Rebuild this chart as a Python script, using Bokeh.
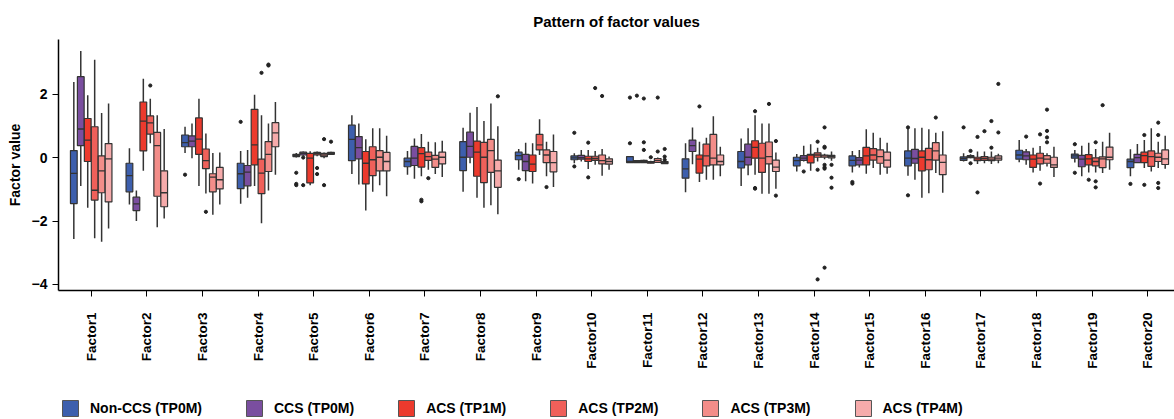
import numpy as np
from bokeh.plotting import figure
from bokeh.layouts import column
from bokeh.models import Range1d, FixedTicker, Legend, LegendItem
from bokeh.embed import file_html
from bokeh.resources import INLINE

FACTORS = [f"Factor{i}" for i in range(1, 21)]
GROUPS = ["Non-CCS (TP0M)", "CCS (TP0M)", "ACS (TP1M)", "ACS (TP2M)", "ACS (TP3M)", "ACS (TP4M)"]
COLORS = ["#3D5FAD", "#7A4E9F", "#EC3A2D", "#EF605A", "#F38D89", "#F6ABAB"]
Y_TICKS = [-4, -2, 0, 2]

# ---- Non-CCS (TP0M)
NONCCS_LO  = [-2.57, -1.48, 0.14, -1.46, 0.00, -0.52, -0.54, -1.08, -0.385, -0.18, -0.17, -1.09, -0.90, -0.44, -0.47, -0.57, -0.125, -0.15, -0.16, -0.59]
NONCCS_Q1  = [-1.45, -1.08, 0.34, -0.98, 0.03, -0.10, -0.29, -0.41, -0.07, -0.07, -0.16, -0.65, -0.33, -0.26, -0.26, -0.26, -0.09, -0.05, -0.02, -0.32]
NONCCS_MED = [-0.50, -0.57, 0.47, -0.51, 0.06, 0.57, -0.125, 0.01, 0.06, -0.01, -0.125, -0.36, -0.125, -0.10, -0.09, -0.02, -0.03, 0.08, 0.05, -0.125]
NONCCS_Q3  = [0.22, -0.18, 0.71, -0.18, 0.10, 1.02, -0.02, 0.50, 0.17, 0.05, 0.03, -0.04, 0.19, 0.01, 0.05, 0.21, 0.02, 0.23, 0.11, -0.05]
NONCCS_HI  = [2.38, 0.29, 0.97, 0.21, 0.14, 1.33, 0.21, 0.94, 0.27, 0.135, 0.05, 0.45, 0.60, 0.11, 0.21, 0.92, 0.135, 0.55, 0.24, 0.26]
NONCCS_OUT_F = [3, 4, 5, 5, 5, 9, 10, 10, 11, 11, 15, 15, 16, 16, 17, 19, 19, 20]
NONCCS_OUT_V = [-0.54, 1.125, -0.48, -0.83, -0.87, -0.68, 0.78, -0.28, 1.89, 0.45, -0.77, -0.82, 0.95, -1.19, 0.95, 0.42, -0.48, -0.83]

# ---- CCS (TP0M)
CCS_LO  = [-0.90, -2.00, -0.02, -1.27, 0.06, -0.85, -0.67, -0.18, -0.75, -0.125, -0.17, -0.21, -0.56, -0.125, -0.31, -0.70, -0.02, -0.23, -0.59, -0.16]
CCS_Q1  = [0.375, -1.67, 0.34, -0.89, 0.08, -0.04, -0.25, 0.01, -0.41, -0.05, -0.16, 0.19, -0.23, -0.09, -0.23, -0.18, 0.00, -0.07, -0.29, -0.16]
CCS_MED = [0.90, -1.46, 0.52, -0.46, 0.13, 0.31, -0.02, 0.35, -0.125, 0.00, -0.13, 0.375, 0.01, -0.02, -0.08, -0.03, 0.03, 0.05, -0.05, 0.00]
CCS_Q3  = [2.55, -1.25, 0.68, -0.25, 0.17, 0.66, 0.35, 0.80, 0.10, 0.07, -0.10, 0.55, 0.42, 0.06, 0.00, 0.26, 0.06, 0.18, 0.07, 0.10]
CCS_HI  = [3.36, -1.04, 1.07, 0.24, 0.19, 1.07, 0.60, 1.41, 0.47, 0.24, -0.08, 0.95, 0.92, 0.375, 0.24, 0.92, 0.10, 0.27, 0.375, 0.43]
CCS_OUT_F = [5, 5, 11, 14, 17, 17, 18]
CCS_OUT_V = [0.00, -0.87, 1.95, -0.44, 0.21, -0.18, 0.66]

# ---- ACS (TP1M)
TP1_LO  = [-1.58, -0.42, -0.90, -0.90, -0.87, -1.67, -0.59, -1.27, -0.82, -0.36, -0.17, -0.77, -0.54, -0.42, -0.51, -1.27, -0.20, -0.47, -0.47, -0.33]
TP1_Q1  = [-0.125, 0.21, 0.10, -0.23, -0.80, -0.83, -0.30, -0.59, -0.44, -0.125, -0.16, -0.49, -0.02, -0.17, -0.23, -0.42, -0.10, -0.31, -0.23, -0.16]
TP1_MED = [0.55, 1.15, 0.58, 0.40, -0.02, -0.18, 0.125, 0.17, -0.21, -0.04, -0.12, -0.05, 0.32, 0.08, 0.05, 0.01, -0.04, -0.05, -0.04, 0.06]
TP1_Q3  = [1.23, 1.75, 1.25, 1.52, 0.13, 0.19, 0.31, 0.52, 0.08, 0.04, -0.09, 0.08, 0.53, 0.10, 0.32, 0.21, 0.01, 0.08, 0.09, 0.17]
TP1_HI  = [1.96, 2.48, 1.85, 1.98, 0.20, 0.58, 0.74, 1.59, 0.45, 0.24, -0.07, 0.50, 1.33, 0.42, 0.89, 0.94, 0.19, 0.31, 0.47, 0.55]
TP1_OUT_F = [7, 7, 10, 10, 11, 11, 11, 12, 13, 13, 13, 17, 17, 19, 20, 20]
TP1_OUT_V = [-1.33, -1.38, 0.47, -0.625, 1.86, 0.48, 0.24, 1.61, 1.46, -0.96, -0.98, 0.65, -1.10, -0.70, 0.71, -0.86]

# ---- ACS (TP2M)
TP2_LO  = [-2.54, 0.45, -1.13, -2.07, 0.04, -1.08, -0.385, -1.58, 0.08, -0.23, -0.19, -0.70, -1.14, -0.125, -0.33, -1.125, -0.18, -0.42, -0.47, -0.44]
TP2_Q1  = [-1.34, 0.74, -0.35, -1.14, 0.08, -0.57, -0.09, -0.79, 0.24, -0.09, -0.18, -0.26, -0.47, 0.01, -0.08, -0.385, -0.09, -0.20, -0.26, -0.28]
TP2_MED = [-1.03, 1.09, -0.10, -0.49, 0.12, -0.07, 0.03, 0.01, 0.40, -0.03, -0.15, 0.05, -0.02, 0.08, 0.08, -0.07, -0.03, -0.02, -0.125, 0.03]
TP2_Q3  = [0.97, 1.31, 0.27, -0.05, 0.16, 0.34, 0.17, 0.48, 0.73, 0.04, -0.125, 0.42, 0.45, 0.15, 0.28, 0.29, 0.03, 0.135, -0.01, 0.21]
TP2_HI  = [3.08, 1.85, 0.76, 1.33, 0.19, 0.92, 0.50, 1.15, 1.21, 0.21, -0.10, 0.625, 1.07, 0.31, 0.78, 0.89, 0.19, 0.36, 0.27, 0.92]
TP2_OUT_F = [2, 3, 4, 5, 5, 7, 10, 11, 14, 14, 14, 17, 18, 18, 19, 19, 19]
TP2_OUT_V = [2.27, -1.71, 2.67, -0.33, -0.52, -0.65, 2.19, 0.01, 0.50, -0.385, -3.84, 0.83, 0.73, -0.82, 0.48, -0.75, -0.94]

# ---- ACS (TP3M)
TP3_LO  = [-2.65, -2.20, -1.80, -1.04, -0.02, -0.875, -0.52, -1.50, -0.59, -0.57, -0.17, -0.70, -1.14, -0.05, -0.54, -0.49, -0.20, -0.28, -0.49, -0.33]
TP3_Q1  = [-1.11, -1.22, -1.08, -0.44, 0.03, -0.42, -0.31, -0.47, -0.16, -0.20, -0.15, -0.23, -0.20, 0.01, -0.18, -0.08, -0.10, -0.18, -0.32, -0.125]
TP3_MED = [-0.42, 0.375, -0.62, 0.10, 0.08, 0.01, -0.05, 0.22, 0.08, -0.10, -0.09, -0.02, 0.03, 0.05, 0.03, 0.21, -0.05, -0.05, -0.04, 0.01]
TP3_Q3  = [0.05, 0.79, -0.51, 0.50, 0.13, 0.22, 0.07, 0.57, 0.24, 0.08, -0.03, 0.73, 0.49, 0.08, 0.24, 0.47, 0.01, 0.06, 0.02, 0.135]
TP3_HI  = [1.40, 1.33, 0.14, 1.07, 0.16, 0.92, 0.48, 1.70, 0.50, 0.27, 0.00, 1.30, 1.07, 0.12, 0.625, 0.78, 0.19, 0.135, 0.50, 0.50]
TP3_OUT_F = [4, 4, 5, 5, 9, 10, 11, 11, 13, 14, 14, 14, 14, 14, 14, 14, 16, 17, 17, 18, 18, 18, 18, 19, 20, 20, 20, 20]
TP3_OUT_V = [2.90, 2.93, 0.58, -0.87, -0.93, 1.94, 1.89, 0.19, 1.69, 0.95, 0.34, 0.31, -0.23, -0.31, -0.35, -3.47, 1.26, 1.15, 0.31, 1.51, 0.84, 0.635, 0.48, 1.65, 1.10, 0.71, -0.80, -0.96]

# ---- ACS (TP4M)
TP4_LO  = [-2.24, -1.92, -1.48, -0.54, 0.08, -1.22, -0.61, -1.79, -0.93, -0.385, -0.20, -0.59, -0.98, -0.10, -0.51, -1.11, -0.18, -0.61, -0.385, -0.35]
TP4_Q1  = [-1.40, -1.55, -0.99, 0.34, 0.10, -0.42, -0.20, -0.94, -0.45, -0.21, -0.19, -0.23, -0.44, -0.01, -0.30, -0.54, -0.08, -0.31, -0.07, -0.22]
TP4_MED = [-0.04, -1.11, -0.70, 0.78, 0.13, -0.125, 0.01, -0.42, -0.16, -0.125, -0.16, -0.125, -0.30, 0.03, -0.08, -0.15, -0.02, -0.23, 0.01, -0.04]
TP4_Q3  = [0.44, -0.42, -0.31, 1.10, 0.16, 0.16, 0.17, -0.08, 0.19, -0.04, -0.125, 0.08, -0.08, 0.07, 0.17, 0.08, 0.05, 0.01, 0.33, 0.24]
TP4_HI  = [1.70, 0.90, 0.16, 1.75, 0.18, 0.69, 0.53, 0.99, 0.73, 0.03, -0.10, 0.34, 0.16, 0.19, 0.47, 0.83, 0.12, 0.34, 0.78, 0.69]
TP4_OUT_F = [5, 8, 11, 11, 11, 13, 13, 14, 14, 14, 17, 17]
TP4_OUT_V = [0.50, 1.93, 0.27, 0.03, -0.07, 0.52, -1.20, -0.23, -0.635, -0.95, 2.32, 0.79]

SERIES = [
    (NONCCS_LO, NONCCS_Q1, NONCCS_MED, NONCCS_Q3, NONCCS_HI, NONCCS_OUT_F, NONCCS_OUT_V),
    (CCS_LO, CCS_Q1, CCS_MED, CCS_Q3, CCS_HI, CCS_OUT_F, CCS_OUT_V),
    (TP1_LO, TP1_Q1, TP1_MED, TP1_Q3, TP1_HI, TP1_OUT_F, TP1_OUT_V),
    (TP2_LO, TP2_Q1, TP2_MED, TP2_Q3, TP2_HI, TP2_OUT_F, TP2_OUT_V),
    (TP3_LO, TP3_Q1, TP3_MED, TP3_Q3, TP3_HI, TP3_OUT_F, TP3_OUT_V),
    (TP4_LO, TP4_Q1, TP4_MED, TP4_Q3, TP4_HI, TP4_OUT_F, TP4_OUT_V),
]

FONT = "Liberation Sans"
LINE = "#333333"

p = figure(width=1174, height=390, output_backend="svg", toolbar_location=None,
           x_range=Range1d(0.412, 20.48), y_range=Range1d(-4.19, 3.72),
           min_border_left=58, min_border_right=0, min_border_top=37, min_border_bottom=100,
           title="Pattern of factor values")
p.outline_line_color = None
p.grid.visible = False
p.background_fill_color = "white"

p.title.align = "center"
p.title.text_font = FONT
p.title.text_font_size = "15px"
p.title.text_font_style = "bold"
p.title.text_color = "black"
p.title.standoff = 20

DODGE = 0.75
BW = DODGE / len(GROUPS)
base = np.arange(1, len(FACTORS) + 1, dtype=float)

for g, (lo, q1, med, q3, hi, of, ov) in enumerate(SERIES):
    x = base + (g - (len(GROUPS) - 1) / 2) * BW
    p.segment(x0=x, y0=q3, x1=x, y1=hi, line_color=LINE, line_width=1.5)
    p.segment(x0=x, y0=q1, x1=x, y1=lo, line_color=LINE, line_width=1.5)
    p.vbar(x=x, width=BW * 0.97, bottom=q1, top=q3, fill_color=COLORS[g],
           line_color=LINE, line_width=1.2)
    p.segment(x0=x - BW * 0.485, y0=med, x1=x + BW * 0.485, y1=med, line_color=LINE, line_width=1.3)
    ox = [base[f - 1] + (g - (len(GROUPS) - 1) / 2) * BW for f in of]
    p.scatter(x=ox, y=ov, size=3.2, color="#222222")

xa = p.xaxis[0]
xa.ticker = FixedTicker(ticks=list(range(1, len(FACTORS) + 1)))
xa.major_label_overrides = {i + 1: FACTORS[i] for i in range(len(FACTORS))}
xa.major_label_orientation = np.pi / 2
xa.major_label_text_font = FONT
xa.major_label_text_font_size = "13.5px"
xa.major_label_text_font_style = "bold"
xa.major_label_text_color = "black"
xa.major_label_standoff = 16
xa.major_tick_out = 6
xa.major_tick_in = 0
xa.minor_tick_line_color = None
xa.axis_line_width = 1.5
xa.axis_line_color = "black"
xa.major_tick_line_color = "black"

ya = p.yaxis[0]
ya.ticker = FixedTicker(ticks=Y_TICKS)
ya.major_label_overrides = {t: (str(t).replace("-", "\u2212")) for t in Y_TICKS}
ya.major_label_text_font = FONT
ya.major_label_text_font_size = "14px"
ya.major_label_text_font_style = "bold"
ya.major_label_text_color = "black"
ya.major_label_standoff = 5
ya.major_tick_out = 6
ya.major_tick_in = 0
ya.minor_tick_line_color = None
ya.axis_line_width = 1.5
ya.axis_line_color = "black"
ya.major_tick_line_color = "black"
ya.axis_label = "Factor value"
ya.axis_label_text_font = FONT
ya.axis_label_text_font_size = "14px"
ya.axis_label_text_font_style = "bold"
ya.axis_label_text_color = "black"
ya.axis_label_standoff = 6

# legend strip below the chart: swatch renderers sit outside the strip's visible range
pl = figure(width=1174, height=29, output_backend="svg", toolbar_location=None,
            x_range=Range1d(100, 101), y_range=Range1d(100, 101),
            x_axis_location=None, y_axis_location=None,
            min_border_left=0, min_border_right=0, min_border_top=0, min_border_bottom=0)
pl.outline_line_color = None
pl.grid.visible = False
items = []
for g, (lo, q1, med, q3, hi, of, ov) in enumerate(SERIES):
    r = pl.vbar(x=[base[0]], width=BW, bottom=[q1[0]], top=[q3[0]],
                fill_color=COLORS[g], line_color="#555555", line_width=1)
    items.append(LegendItem(label=GROUPS[g], renderers=[r]))
legend = Legend(items=items, orientation="horizontal", location=(2, 1),
                glyph_width=20, glyph_height=20, label_standoff=10, spacing=42,
                padding=0, margin=0, border_line_color=None, background_fill_alpha=0,
                label_text_font=FONT, label_text_font_size="14px", label_text_font_style="bold",
                label_text_color="black")
pl.add_layout(legend)

open("out.html", "w").write(file_html(column(p, pl, spacing=0), INLINE))
